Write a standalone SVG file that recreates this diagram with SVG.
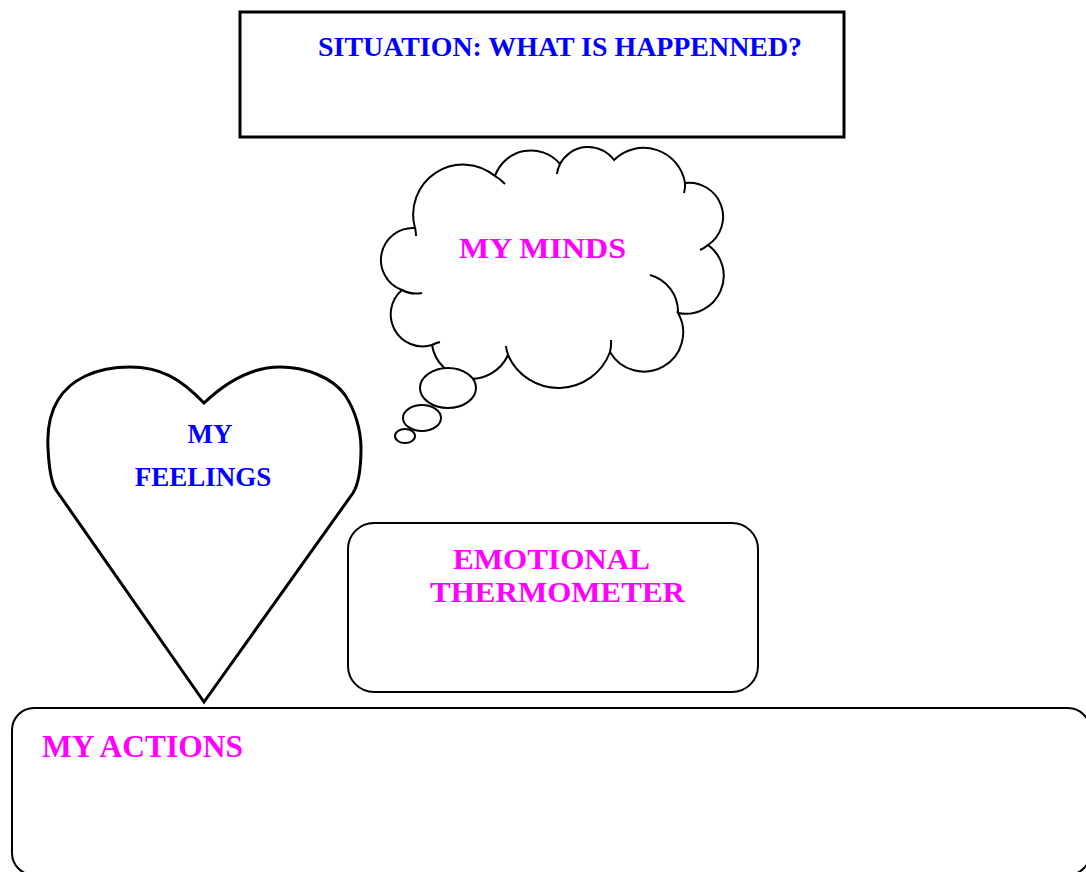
<svg xmlns="http://www.w3.org/2000/svg" width="1086" height="872" viewBox="0 0 1086 872">
<style>
.ln{fill:#fff;stroke:#000;stroke-width:2;}
.thk{fill:#fff;stroke:#000;stroke-width:3;}
.tail{fill:none;stroke:#000;stroke-width:2;}
.t{font-family:"Liberation Serif","Times New Roman",serif;font-weight:bold;}
.blue{fill:#0000FF;}
.mag{fill:#FF00FF;}
</style>
<rect width="1086" height="872" fill="#fff"/>
<g id="situation">
<rect class="thk" x="240" y="12" width="604" height="125"/>
<text class="t blue" x="318" y="56" font-size="28" textLength="484" lengthAdjust="spacingAndGlyphs">SITUATION: WHAT IS HAPPENNED?</text>
</g>
<g id="minds">
<path class="ln" d="M415,228 A50,50 0 0 1 495,176 A38,38 0 0 1 560,164 A32,32 0 0 1 614,160 A42,42 0 0 1 685,183 A34,34 0 0 1 708,245 A38,38 0 0 1 678,313 A38,38 0 0 1 610,352 A55,55 0 0 1 508,355 A40,40 0 0 1 432,345 A32,32 0 0 1 402,290 A32,32 0 0 1 415,228 Z"/>
<path class="tail" d="M495,176 A40,40 0 0 1 505,184 M560,164 A30,30 0 0 0 557,174 M685,183 A30,30 0 0 1 684,193 M708,245 A34,34 0 0 1 700,250 M678,313 A38,38 0 0 0 650,275 M610,352 A40,40 0 0 0 611,340 M508,355 A40,40 0 0 1 506,346 M432,345 A40,40 0 0 1 440,342 M402,290 A30,30 0 0 0 422,293 M415,228 A30,30 0 0 1 416,236"/>
<ellipse class="ln" cx="448" cy="388" rx="28" ry="20"/>
<ellipse class="ln" cx="422" cy="418" rx="19" ry="13"/>
<ellipse class="ln" cx="405" cy="436" rx="10" ry="7"/>
<text class="t mag" x="459" y="258" font-size="30" textLength="167" lengthAdjust="spacingAndGlyphs">MY MINDS</text>
</g>
<g id="feelings">
<path class="thk" d="M204,403 C180,378 160,367 130,367 C95,367 70,380 58,400 C50,413 47,430 48,448 C49,470 51,482 56,490 L204,702 L353,493 C358,485 361,470 361,448 C361,430 355,410 345,395 C332,377 305,367 280,367 C250,367 225,383 204,403 Z"/>
<text class="t blue" x="210" y="443" font-size="27" text-anchor="middle">MY</text>
<text class="t blue" x="203" y="486" font-size="27" text-anchor="middle">FEELINGS</text>
</g>
<g id="thermometer">
<rect class="ln" x="348" y="523" width="410" height="169" rx="26"/>
<text class="t mag" x="453" y="569" font-size="29" textLength="197" lengthAdjust="spacingAndGlyphs">EMOTIONAL</text>
<text class="t mag" x="430" y="602" font-size="29" textLength="255" lengthAdjust="spacingAndGlyphs">THERMOMETER</text>
</g>
<g id="actions">
<rect class="ln" x="12" y="708" width="1078" height="167" rx="22"/>
<text class="t mag" x="42" y="757" font-size="31" textLength="201" lengthAdjust="spacingAndGlyphs">MY ACTIONS</text>
</g>
<g id="connectors"></g>
</svg>
